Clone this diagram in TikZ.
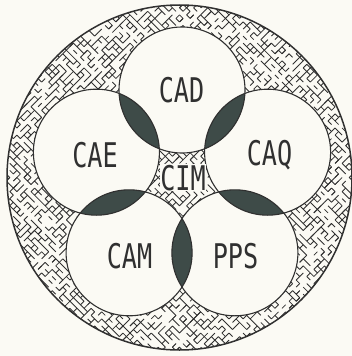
\documentclass[tikz,border=0pt]{standalone}
\usepackage{fontspec}
\newfontfamily\plotfont{DejaVu Sans Mono}
\definecolor{paper}{HTML}{FBFAF4}
\definecolor{ink}{HTML}{303030}
\definecolor{lensc}{HTML}{3E4B48}
\begin{document}
\begin{tikzpicture}[x=1pt,y=-1pt,
  outline/.style={draw=ink, line width=1.1pt},
  rim/.style={draw=ink, line width=1.5pt},
  maze/.style={draw=ink, line width=0.85pt, line cap=butt},
  lbl/.style={font=\plotfont\fontsize{34}{34}\selectfont, text=ink, inner sep=0pt, anchor=base},
]
\useasboundingbox (0,0) rectangle (352,356);
\fill[paper] (0,0) rectangle (352,356);
\coordinate (o) at (179.5,177.5);
\coordinate (pD) at (182,90);
\coordinate (pQ) at (267.6,152.2);
\coordinate (pP) at (234.9,252.8);
\coordinate (pM) at (129.1,252.8);
\coordinate (pE) at (96.4,152.2);
\def\rr{63}
% maze hatch
\begin{scope}
  \clip (o) circle[radius=172.5];
  \begin{scope}[shift={(179.5,177.5)}, rotate=45]
    \pgfmathsetseed{4242}
    \foreach \i in {-36,...,36}{
      \draw[maze] \foreach \j in {-36,...,36}{
        (\i*5,\j*5) -- ++({90*random(0,3)}:{5*(random(0,2)>0)})
        (\i*5,\j*5) -- ++({90*random(0,3)}:{5*(random(0,2)>0)})
      };
    }
  \end{scope}
\end{scope}
% white circles
\foreach \p in {pD,pQ,pP,pM,pE}{ \fill[paper] (\p) circle[radius=\rr]; }
% lenses
\begin{scope}\clip (pD) circle[radius=\rr]; \fill[lensc] (pQ) circle[radius=\rr]; \end{scope}
\begin{scope}\clip (pQ) circle[radius=\rr]; \fill[lensc] (pP) circle[radius=\rr]; \end{scope}
\begin{scope}\clip (pP) circle[radius=\rr]; \fill[lensc] (pM) circle[radius=\rr]; \end{scope}
\begin{scope}\clip (pM) circle[radius=\rr]; \fill[lensc] (pE) circle[radius=\rr]; \end{scope}
\begin{scope}\clip (pE) circle[radius=\rr]; \fill[lensc] (pD) circle[radius=\rr]; \end{scope}
% outlines
\foreach \p in {pD,pQ,pP,pM,pE}{ \draw[outline] (\p) circle[radius=\rr]; }
\draw[rim] (o) circle[radius=172.5];
% labels
\node[lbl] (cad) at (181.5,102) {\scalebox{0.74}[1]{CAD}};
\node[lbl] (cae) at (95,167) {\scalebox{0.74}[1]{CAE}};
\node[lbl] (caq) at (269.5,165) {\scalebox{0.74}[1]{CAQ}};
\node[lbl] (cam) at (129.5,268) {\scalebox{0.74}[1]{CAM}};
\node[lbl] (pps) at (235.5,268) {\scalebox{0.74}[1]{PPS}};
\node[lbl, fill=paper, inner xsep=0.5pt, inner ysep=0.5pt] (cim) at (183,190) {\scalebox{0.74}[1]{CIM}};
\end{tikzpicture}
\end{document}
